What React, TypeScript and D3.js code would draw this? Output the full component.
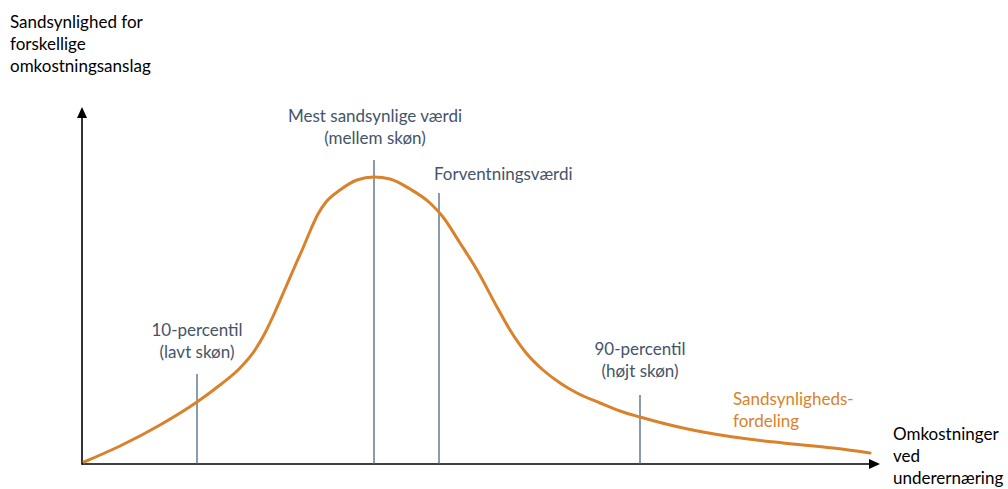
import React from "react";
import * as d3 from "d3";

// Curve: x = cost (arbitrary units), y = probability density (arbitrary units)
const curveX = [2, 38, 78, 115, 138, 158, 173, 183, 193, 203, 213, 221, 229, 236, 244, 258, 275, 292, 308, 328, 348, 361, 378, 395, 415, 428, 445, 461, 478, 495, 518, 538, 558, 601, 651, 701, 751, 788];
const curveY = [2, 18, 39, 62, 79, 96, 114, 131, 152, 175, 198, 216, 235, 250, 262, 274, 284, 287, 285, 275, 261, 247, 221, 194, 157, 134, 110, 94, 81, 71, 61, 53, 47, 36, 27, 21, 16, 11];

// Marker lines: position on x and height of the line
const markerNames = ["p10", "mode", "mean", "p90"];
const markerX = [115, 292, 357, 558];
const markerTop = [90, 304, 271, 69];

const yAxisLabel = ["Sandsynlighed for", "forskellige", "omkostningsanslag"];
const xAxisLabel = ["Omkostninger", "ved", "underernæring"];
const p10Label = ["10-percentil", "(lavt skøn)"];
const modeLabel = ["Mest sandsynlige værdi", "(mellem skøn)"];
const meanLabel = ["Forventningsværdi"];
const p90Label = ["90-percentil", "(højt skøn)"];
const seriesLabel = ["Sandsynligheds-", "fordeling"];

const W = 1008;
const H = 489;
const FONT = "Lato, 'Open Sans', sans-serif";
const FS = 17;
const LH = 22;
const BLUE = "#44546A";
const LINE_BLUE = "#4E6482";
const ORANGE = "#D9822B";

export default function App() {
  const x = d3.scaleLinear().domain([0, 800]).range([82, 882]);
  const y = d3.scaleLinear().domain([0, 360]).range([464, 104]);
  const pts: [number, number][] = curveX.map((v, i) => [v, curveY[i]]);
  const line = d3
    .line<[number, number]>()
    .x((d) => x(d[0]))
    .y((d) => y(d[1]))
    .curve(d3.curveMonotoneX);

  const x0 = x(0);
  const y0 = y(0);
  const xEnd = x(798);
  const yEnd = y(357);

  const lines = (arr: string[], px: number, py: number, anchor: string, fill: string) =>
    arr.map((t, i) => (
      <text key={i} x={px} y={py + i * LH} textAnchor={anchor} fill={fill}>
        {t}
      </text>
    ));

  return (
    <svg
      width={W}
      height={H}
      style={{ position: "absolute", left: 0, top: 0, background: "#fff" }}
      fontFamily={FONT}
      fontSize={FS}
    >
      {/* axes */}
      <line x1={x0} y1={y0} x2={xEnd - 8} y2={y0} stroke="#000" strokeWidth={1.6} />
      <path d={`M${xEnd},${y0} L${xEnd - 11},${y0 - 5} L${xEnd - 11},${y0 + 5} Z`} fill="#000" />
      <line x1={x0} y1={y0 + 0.8} x2={x0} y2={yEnd + 8} stroke="#000" strokeWidth={1.6} />
      <path d={`M${x0},${yEnd} L${x0 - 5},${yEnd + 11} L${x0 + 5},${yEnd + 11} Z`} fill="#000" />

      {/* marker lines */}
      {markerNames.map((n, i) => (
        <line
          key={n}
          x1={x(markerX[i])}
          x2={x(markerX[i])}
          y1={y0}
          y2={y(markerTop[i])}
          stroke={LINE_BLUE}
          strokeWidth={1.3}
        />
      ))}

      {/* distribution curve */}
      <path d={line(pts) || ""} fill="none" stroke={ORANGE} strokeWidth={3} strokeLinecap="round" />

      {/* texts */}
      {lines(yAxisLabel, 10, 28, "start", "#000")}
      {lines(xAxisLabel, 893, 440, "start", "#000")}
      {lines(p10Label, x(markerX[0]), y(markerTop[0]) - 38, "middle", BLUE)}
      {lines(modeLabel, x(markerX[1]) + 1, y(markerTop[1]) - 38, "middle", BLUE)}
      {lines(meanLabel, x(markerX[2]) - 5, y(markerTop[2]) - 13, "start", BLUE)}
      {lines(p90Label, x(markerX[3]), y(markerTop[3]) - 40, "middle", BLUE)}
      {lines(seriesLabel, 733, 405, "start", ORANGE)}
    </svg>
  );
}
